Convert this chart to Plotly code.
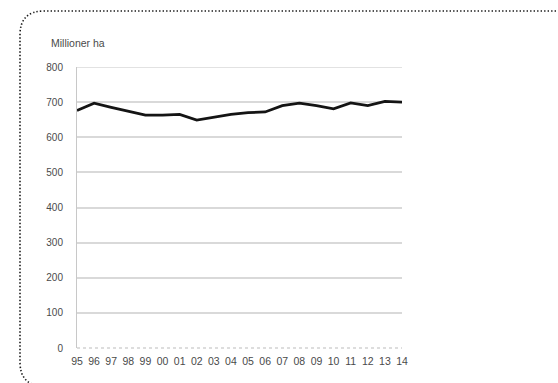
import plotly.graph_objects as go

years = ["95", "96", "97", "98", "99", "00", "01", "02", "03", "04",
         "05", "06", "07", "08", "09", "10", "11", "12", "13", "14"]
values = [676, 697, 685, 673, 663, 663, 665, 649, 658, 665,
          670, 672, 690, 697, 690, 681, 698, 690, 702, 700]
y_ticks = [0, 100, 200, 300, 400, 500, 600, 700, 800]
unit_label = "Millioner ha"

W, H = 558, 383
L, R, T, B = 77, 402, 67, 348
PW, PH = R - L, B - T

def px(x):
    return (x - L) / PW

def py(y):
    return (B - y) / PH

xs = list(range(len(years)))

fig = go.Figure()
fig.add_trace(go.Scatter(
    x=xs, y=values, mode="lines",
    line=dict(color="#141414", width=2.8),
    cliponaxis=False, showlegend=False, hoverinfo="skip",
))

xfont = dict(family="Liberation Sans, Arial, sans-serif", size=10.5, color="#4a4a4a")
yfont = dict(family="Liberation Sans, Arial, sans-serif", size=10, color="#4a4a4a")

fig.update_xaxes(
    range=[0, len(years) - 1], tickmode="array", tickvals=xs, ticktext=years,
    showgrid=False, zeroline=False, showline=False, ticks="",
    tickfont=xfont, ticklabelstandoff=5, fixedrange=True,
)
fig.update_yaxes(
    range=[0, 800], tickmode="array", tickvals=y_ticks,
    showgrid=True, gridcolor="#d9d9d9", gridwidth=1.5,
    zeroline=False, showline=True, linecolor="#c8c8c8", linewidth=1,
    ticks="", tickfont=yfont, ticklabelstandoff=11, fixedrange=True,
)

# top gridline (at the range edge)
fig.add_shape(type="line", xref="paper", yref="y", x0=0, x1=1, y0=y_ticks[-1], y1=y_ticks[-1],
              line=dict(color="#d9d9d9", width=1.5), layer="below")

# dotted x axis baseline
fig.add_shape(type="line", xref="paper", yref="paper", x0=0, x1=1, y0=0, y1=0,
              line=dict(color="#bbbbbb", width=1.2, dash="dot"), layer="below")

# rounded dotted frame
r = 24
l_, t_, b_, rr = 20, 11, 386, 570
pts = (f"M {px(rr)},{py(t_)} L {px(l_ + r)},{py(t_)} "
       f"Q {px(l_)},{py(t_)} {px(l_)},{py(t_ + r)} "
       f"L {px(l_)},{py(b_ - r)} Q {px(l_)},{py(b_)} {px(l_ + r)},{py(b_)} "
       f"L {px(rr)},{py(b_)}")
fig.add_shape(type="path", xref="paper", yref="paper", path=pts,
              line=dict(color="#1a1a1a", width=1.6, dash="1.4px,2.1px"))

fig.add_annotation(text=unit_label, xref="paper", yref="paper",
                   x=px(49), y=py(43), xanchor="left", yanchor="middle",
                   showarrow=False, font=dict(family="Liberation Sans, Arial, sans-serif",
                                              size=10.5, color="#4a4a4a"))

fig.update_layout(
    width=W, height=H,
    margin=dict(l=L, r=W - R, t=T, b=H - B),
    paper_bgcolor="white", plot_bgcolor="white",
)

fig.write_html("out.html")
